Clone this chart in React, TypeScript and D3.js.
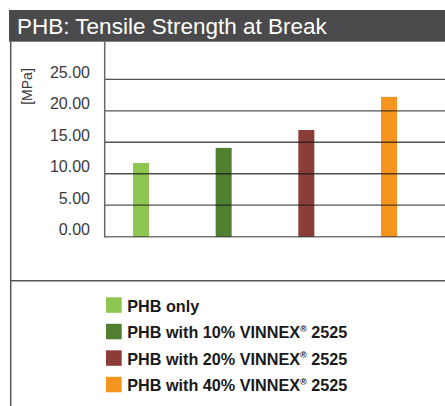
import React from "react";
import * as d3 from "d3";

const categories = ["PHB only", "PHB with 10% VINNEX", "PHB with 20% VINNEX", "PHB with 40% VINNEX"];
const values = [11.7, 14.1, 16.95, 22.2];
const colors = ["#8dc650", "#4f7f2f", "#8b3d3a", "#f7941d"];
const legendLabels = ["PHB only", "PHB with 10% VINNEX", "PHB with 20% VINNEX", "PHB with 40% VINNEX"];
const legendSuffix = ["", " 2525", " 2525", " 2525"];
const yTicks = [0, 5, 10, 15, 20, 25];

const W = 445;
const H = 406;

export default function App() {
  const y = d3.scaleLinear().domain([0, 25]).range([236.7, 79.3]);
  const x = d3.scalePoint<string>().domain(categories).range([141, 389]).padding(0);
  const barW = 16;
  const font = "'Liberation Sans', Arial, Helvetica, sans-serif";

  return (
    <svg width={W} height={H} style={{ position: "absolute", left: 0, top: 0 }} fontFamily={font}>
      <rect x={0} y={0} width={W} height={H} fill="#ffffff" />
      {/* title bar */}
      <rect x={9} y={10} width={W - 9} height={31.7} fill="#4a4a4c" />
      <text x={17} y={34} fill="#ffffff" fontSize={22.5}>PHB: Tensile Strength at Break</text>
      {/* left border */}
      <line x1={10.7} x2={10.7} y1={41.7} y2={H} stroke="#555" strokeWidth={1.5} />
      {/* separator */}
      <line x1={10} x2={W} y1={280.7} y2={280.7} stroke="#555" strokeWidth={1.5} />
      {/* bars */}
      {categories.map((c, i) => (
        <rect key={c} x={(x(c) as number) - barW / 2} y={y(values[i])} width={barW} height={y(0) - y(values[i])} fill={colors[i]} />
      ))}
      {/* gridlines */}
      {yTicks.map((t) => (
        <line key={t} x1={104.7} x2={W} y1={y(t)} y2={y(t)} stroke="#1a1a1a" strokeOpacity={t === 0 ? 0.6 : 0.75} strokeWidth={t === 0 ? 1.5 : 1.3} />
      ))}
      {/* y axis */}
      <line x1={104.7} x2={104.7} y1={41.7} y2={237.5} stroke="#666" strokeWidth={1.5} />
      {/* tick labels */}
      {yTicks.map((t) => (
        <text key={t} x={90} y={y(t) - 1.5} textAnchor="end" fontSize={16} fill="#3a3a3a">{d3.format(".2f")(t)}</text>
      ))}
      <text transform={`translate(32,86.5) rotate(-90)`} textAnchor="middle" fontSize={14} fill="#3a3a3a">[MPa]</text>
      {/* legend */}
      {legendLabels.map((l, i) => (
        <g key={l} transform={`translate(106,${297.3 + i * 26.5})`}>
          <rect x={0} y={0} width={15.7} height={15.5} fill={colors[i]} />
          <text x={21.3} y={14.4} fontSize={16.2} fontWeight="bold" fill="#1a1a1a">
            {l}
            {legendSuffix[i] ? <tspan fontSize={9} dy={-6.5}>®</tspan> : null}
            {legendSuffix[i] ? <tspan dy={6.5}>{legendSuffix[i]}</tspan> : null}
          </text>
        </g>
      ))}
    </svg>
  );
}
